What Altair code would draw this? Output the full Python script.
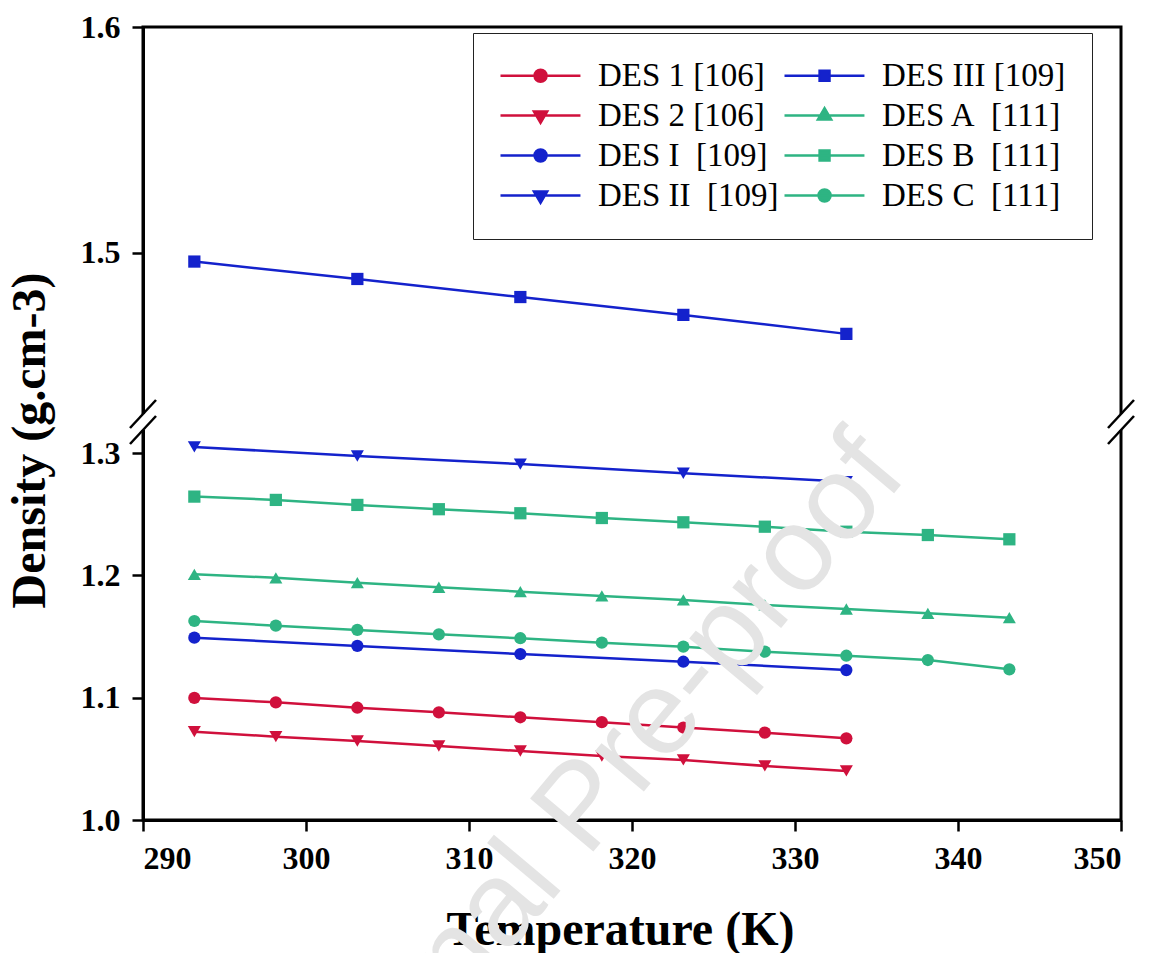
import altair as alt
import pandas as pd

# ---------------- data ----------------
T5 = [293.15, 303.15, 313.15, 323.15, 333.15]
T9 = [293.15, 298.15, 303.15, 308.15, 313.15, 318.15, 323.15, 328.15, 333.15]
T11 = [293.15, 298.15, 303.15, 308.15, 313.15, 318.15, 323.15, 328.15, 333.15, 338.15, 343.15]

des1 = [1.0998, 1.0962, 1.0918, 1.0880, 1.0840, 1.0800, 1.0756, 1.0714, 1.0668]
des2 = [1.0722, 1.0681, 1.0646, 1.0605, 1.0564, 1.0523, 1.0491, 1.0442, 1.0401]
desI = [1.1491, 1.1423, 1.1357, 1.1294, 1.1226]
desII = [1.3050, 1.2976, 1.2910, 1.2835, 1.2766]
desIII = [1.4962, 1.4885, 1.4805, 1.4726, 1.4642]
desA = [1.2009, 1.1980, 1.1940, 1.1903, 1.1867, 1.1832, 1.1799, 1.1758, 1.1725, 1.1690, 1.1654]
desB = [1.2644, 1.2617, 1.2576, 1.2541, 1.2508, 1.2469, 1.2434, 1.2398, 1.2357, 1.2330, 1.2295]
desC = [1.1627, 1.1589, 1.1554, 1.1518, 1.1486, 1.1450, 1.1417, 1.1376, 1.1343, 1.1308, 1.1232]

NB = "\u00a0"
L1 = "DES 1 [106]"
L2 = "DES 2 [106]"
LI = "DES I" + NB + NB + "[109]"
LII = "DES II" + NB + NB + "[109]"
LIII = "DES III [109]"
LA = "DES A" + NB + NB + "[111]"
LB = "DES B" + NB + NB + "[111]"
LC = "DES C" + NB + NB + "[111]"

series = [
    (L1, T9, des1), (L2, T9, des2), (LI, T5, desI), (LII, T5, desII),
    (LIII, T5, desIII), (LA, T11, desA), (LB, T11, desB), (LC, T11, desC),
]

# legend order (filled column by column, 2 columns)
legend_order = [L1, L2, LI, LII, LIII, LA, LB, LC]

x_ticks = [290, 300, 310, 320, 330, 340, 350]
y_ticks = [1.0, 1.1, 1.2, 1.3, 1.5, 1.6]
y_break = [1.3254, 1.4252]   # broken y axis: lower and upper segments
break_mid = 1.38

# ---------------- styles ----------------
RED = "#D0103C"
BLUE = "#1422CC"
GREEN = "#2EB483"
col_of = {L1: RED, L2: RED, LI: BLUE, LII: BLUE, LIII: BLUE, LA: GREEN, LB: GREEN, LC: GREEN}
shape_of = {L1: "circle", L2: "triangle-down", LI: "circle", LII: "triangle-down",
            LIII: "square", LA: "triangle-up", LB: "square", LC: "circle"}
# legend symbol: line segment with the marker in its middle (unit = 15 px)
leg_path = {
    "circle": "M-1,0H4.33M1.27,0A0.4,0.4 0 1,0 2.07,0A0.4,0.4 0 1,0 1.27,0Z",
    "triangle-down": "M-1,0H4.33M1.23,-0.26L2.11,-0.26L1.67,0.48Z",
    "square": "M-1,0H4.33M1.34,-0.33H2.0V0.33H1.34Z",
    "triangle-up": "M-1,0H4.33M1.23,0.26L2.11,0.26L1.67,-0.48Z",
}

W, H = 978, 793
BRK_PX = 395
SERIF = "Liberation Serif"

rows = []
for name, ts, vs in series:
    for t, v in zip(ts, vs):
        rows.append({"series": name, "T": t, "rho": v})
df = pd.DataFrame(rows)

# plot colour scale (domain order differs from the legend so they stay separate)
color_domain = list(reversed(legend_order))
color_scale = alt.Scale(domain=color_domain, range=[col_of[s] for s in color_domain])

x_enc = alt.X(
    "T:Q",
    scale=alt.Scale(domain=[290, 350], nice=False, zero=False),
    axis=alt.Axis(values=x_ticks, title="Temperature (K)", format="d", grid=False,
                  tickSize=11, tickWidth=2.5, tickColor="black", domainColor="black",
                  domainWidth=3, labelFont=SERIF, labelFontWeight="bold", labelFontSize=32,
                  labelColor="black", labelPadding=12, titleFont=SERIF, titleFontWeight="bold",
                  titleFontSize=48, titleColor="black", titlePadding=32, titleX=477),
)
y_enc = alt.Y(
    "rho:Q",
    scale=alt.Scale(domain=[1.0, y_break[0], y_break[1], 1.6],
                    range=[H, BRK_PX, BRK_PX, 0], nice=False, zero=False),
    axis=alt.Axis(values=y_ticks, title="Density (g.cm-3)", format=".1f", grid=False,
                  tickSize=11, tickWidth=2.5, tickColor="black", domainColor="black",
                  domainWidth=3, labelFont=SERIF, labelFontWeight="bold", labelFontSize=32,
                  labelColor="black", labelPadding=12, titleFont=SERIF, titleFontWeight="bold",
                  titleFontSize=48, titleColor="black", titlePadding=26, titleY=413),
)

base = alt.Chart(df)

lines = base.mark_line(strokeWidth=2.5).encode(
    x=x_enc, y=y_enc,
    color=alt.Color("series:N", scale=color_scale, legend=None),
    detail="series:N",
)

point_layers = []
for shp in ["circle", "triangle-down", "square", "triangle-up"]:
    members = [s for s in legend_order if shape_of[s] == shp]
    sz = 170 if shp.startswith("triangle") else 150
    point_layers.append(
        base.transform_filter(alt.FieldOneOfPredicate(field="series", oneOf=members))
        .mark_point(shape=shp, filled=True, size=sz, opacity=1)
        .encode(x=x_enc, y=y_enc,
                color=alt.Color("series:N", scale=color_scale, legend=None))
    )

leg_kwargs = dict(
    title=None, orient="none", legendX=330, legendY=6, columns=2,
    padding=26, strokeColor="#222222", fillColor="white",
    labelFont=SERIF, labelFontSize=33, labelColor="black", labelOffset=66,
    symbolSize=900, symbolStrokeWidth=2.5, rowPadding=6, columnPadding=0,
    labelLimit=400,
)
legend_layer = (
    base.transform_filter("false")
    .mark_point(filled=True, size=900, strokeWidth=2.5, opacity=1)
    .encode(
        x=x_enc, y=y_enc,
        shape=alt.Shape("series:N", scale=alt.Scale(domain=legend_order,
                        range=[leg_path[shape_of[s]] for s in legend_order]),
                        legend=alt.Legend(**leg_kwargs)),
        fill=alt.Fill("series:N", scale=alt.Scale(domain=legend_order,
                      range=[col_of[s] for s in legend_order]),
                      legend=alt.Legend(**leg_kwargs)),
        stroke=alt.Stroke("series:N", scale=alt.Scale(domain=legend_order,
                          range=[col_of[s] for s in legend_order]),
                          legend=alt.Legend(**leg_kwargs)),
    )
)

# axis-break decoration on left and right frame
brk = pd.DataFrame({"xb": [290, 350]})
gap = alt.Chart(brk).mark_rule(color="white", strokeWidth=7, yOffset=-8, y2Offset=8).encode(
    x="xb:Q", y=alt.datum(break_mid), y2=alt.datum(break_mid))
slash_layers = []
for c in (-8, 8):
    slash_layers.append(
        alt.Chart(brk).mark_rule(color="black", strokeWidth=2.5,
                                 xOffset=-13, x2Offset=13, yOffset=14 + c, y2Offset=-14 + c)
        .encode(x="xb:Q", x2="xb:Q", y=alt.datum(break_mid), y2=alt.datum(break_mid))
    )

wm = alt.Chart(pd.DataFrame({"t": ["Journal Pre-proof"]})).mark_text(
    angle=310, fontSize=120, color="#e4e4e4", font="Liberation Sans",
    align="center", baseline="middle").encode(
    x=alt.datum(317.0), y=alt.datum(1.0100), text="t:N")

chart = alt.layer(lines, *point_layers, legend_layer, gap, *slash_layers, wm).properties(
    width=W, height=H,
    autosize=alt.AutoSizeParams(type="none"),
    padding={"left": 143, "top": 27, "right": 28, "bottom": 133},
    background="white",
).configure_view(stroke="black", strokeWidth=3)

chart.save("out.html", embed_options={"renderer": "svg", "actions": False})
